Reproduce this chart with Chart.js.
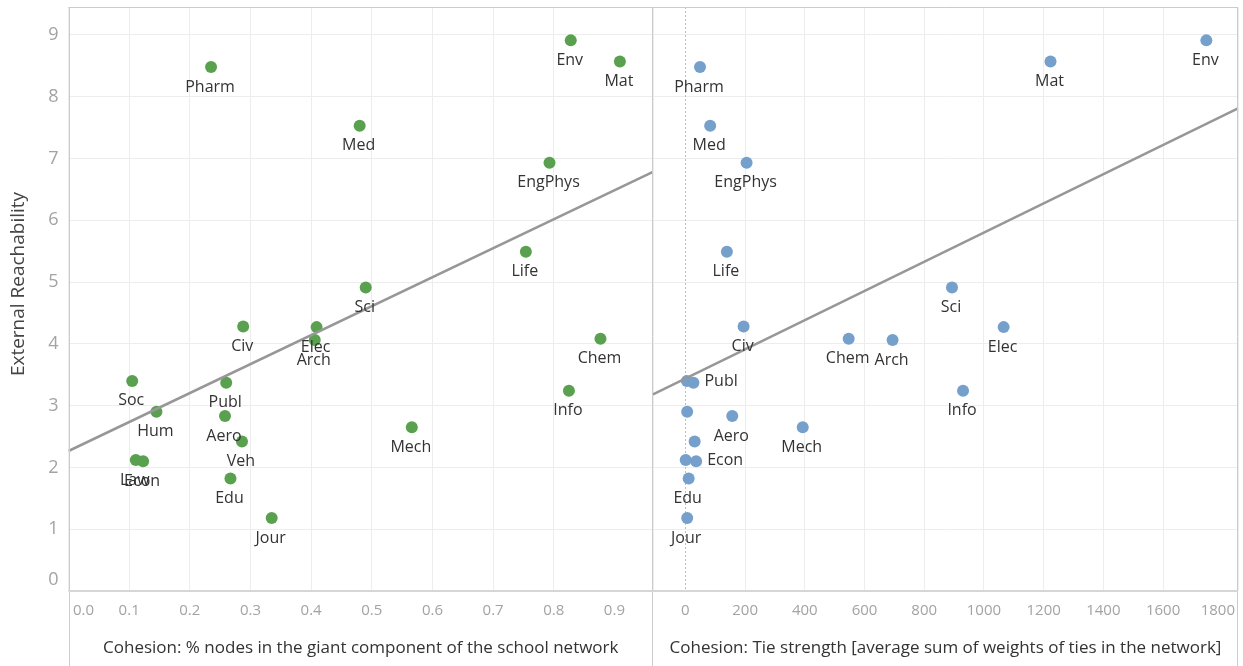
<!DOCTYPE html>
<html>
<head>
<meta charset="utf-8">
<script src="https://cdn.jsdelivr.net/npm/chart.js@4.4.1/dist/chart.umd.min.js"></script>
<style>
  html, body { margin: 0; padding: 0; background: #ffffff; }
  #wrap { position: relative; width: 1243px; height: 666px; overflow: hidden; }
  #wrap canvas { position: absolute; top: 0; }
  #cohesionChart { left: 0; }
  #tieChart { left: 653px; }
</style>
</head>
<body>
<div id="wrap">
  <canvas id="cohesionChart" width="653" height="666"></canvas>
  <canvas id="tieChart" width="590" height="666"></canvas>
</div>
<script>
// ---- data -------------------------------------------------------------
const schools = ['Pharm', 'Env', 'Mat', 'Med', 'EngPhys', 'Life', 'Sci', 'Civ', 'Elec', 'Arch', 'Soc',
                 'Publ', 'Hum', 'Aero', 'Veh', 'Law', 'Econ', 'Edu', 'Jour', 'Mech', 'Info', 'Chem'];

// External reachability of each school network
const reachability = [8.48, 8.91, 8.57, 7.53, 6.93, 5.49, 4.91, 4.28, 4.27, 4.06, 3.40,
                      3.37, 2.90, 2.83, 2.42, 2.12, 2.10, 1.82, 1.18, 2.65, 3.24, 4.08];

// Cohesion: share of nodes in the giant component
const giantShare = [0.235, 0.828, 0.909, 0.480, 0.793, 0.754, 0.490, 0.288, 0.409, 0.406, 0.105,
                    0.260, 0.145, 0.258, 0.286, 0.111, 0.123, 0.267, 0.335, 0.566, 0.825, 0.877];

// Cohesion: tie strength (average sum of tie weights)
const tieStrength = [49, 1745, 1223, 83, 205, 139, 893, 195, 1066, 694, 5,
                     27, 6, 157, 31, 1, 36, 11, 6, 393, 930, 547];

// tick labels
const reachTicks = ['0', '1', '2', '3', '4', '5', '6', '7', '8', '9'];
const shareTicks = ['0.0', '0.1', '0.2', '0.3', '0.4', '0.5', '0.6', '0.7', '0.8', '0.9'];
const tieTicks = ['0', '200', '400', '600', '800', '1000', '1200', '1400', '1600', '1800'];

// axis ranges
const REACH_RANGE = [0, 9.45];
const SHARE_RANGE = [0, 0.9636];
const TIE_RANGE = [-108.5, 1851];

// ---- styling ----------------------------------------------------------
const FONT = '"Open Sans", "Noto Sans", sans-serif';
const GREEN = '#59a14f';
const BLUE = '#74a0cb';
const TREND = '#979797';
const GRID = '#ededed';
const FRAME = '#cbcbcb';
const TICK_TEXT = '#a3a3a3';

// least squares line through the points
function linearFit(xs, ys) {
  const n = xs.length;
  const mx = xs.reduce((s, v) => s + v, 0) / n;
  const my = ys.reduce((s, v) => s + v, 0) / n;
  let sxy = 0, sxx = 0;
  for (let i = 0; i < n; i++) {
    sxy += (xs[i] - mx) * (ys[i] - my);
    sxx += (xs[i] - mx) * (xs[i] - mx);
  }
  const slope = sxy / sxx;
  return { slope, intercept: my - slope * mx };
}

function trendPoints(xs, ys, range) {
  const f = linearFit(xs, ys);
  return range.map(x => ({ x, y: f.intercept + f.slope * x }));
}

// mark labels, under each point or to its right
const markLabels = {
  id: 'markLabels',
  afterDatasetsDraw(chart, args, opts) {
    const ctx = chart.ctx;
    const meta = chart.getDatasetMeta(0);
    ctx.save();
    ctx.font = '16px ' + FONT;
    ctx.fillStyle = '#333333';
    ctx.textBaseline = 'middle';
    meta.data.forEach((pt, i) => {
      const name = schools[i];
      if (opts.hidden && opts.hidden.includes(name)) return;
      if (opts.right && opts.right.includes(name)) {
        ctx.textAlign = 'left';
        ctx.fillText(name, pt.x + 11, pt.y - 1);
      } else {
        ctx.textAlign = 'center';
        ctx.fillText(name, pt.x - 1, pt.y + 20);
      }
    });
    ctx.restore();
  }
};

// pane frame, zero line, tick labels and the vertical axis title
const paneFrame = {
  id: 'paneFrame',
  beforeDatasetsDraw(chart, args, opts) {
    if (!opts.zeroLine) return;
    const { ctx, chartArea } = chart;
    const x = Math.round(chart.scales.x.getPixelForValue(0)) + 0.5;
    ctx.save();
    ctx.strokeStyle = '#bdbdbd';
    ctx.lineWidth = 1;
    ctx.setLineDash([2, 2]);
    ctx.beginPath();
    ctx.moveTo(x, chartArea.top);
    ctx.lineTo(x, chartArea.bottom);
    ctx.stroke();
    ctx.restore();
  },
  afterDraw(chart, args, opts) {
    const { ctx, chartArea, height } = chart;
    const { left, right, top, bottom } = chartArea;
    ctx.save();
    ctx.strokeStyle = FRAME;
    ctx.lineWidth = 1;
    ctx.beginPath();
    ctx.moveTo(left, top + 0.5);
    ctx.lineTo(right, top + 0.5);
    if (opts.leftEdge) {
      ctx.moveTo(Math.round(left) + 0.5, top);
      ctx.lineTo(Math.round(left) + 0.5, height);
    }
    ctx.moveTo(Math.round(right) - 0.5, top);
    ctx.lineTo(Math.round(right) - 0.5, height);
    ctx.stroke();
    ctx.strokeStyle = '#d6d6d6';
    ctx.lineWidth = 2;
    ctx.beginPath();
    ctx.moveTo(left, bottom);
    ctx.lineTo(right, bottom);
    ctx.stroke();

    // x tick labels, kept inside the pane
    ctx.fillStyle = TICK_TEXT;
    ctx.font = '15px ' + FONT;
    ctx.textBaseline = 'middle';
    ctx.textAlign = 'center';
    const xs = chart.scales.x;
    opts.xTicks.forEach(t => {
      const w = ctx.measureText(t).width;
      let cx = xs.getPixelForValue(Number(t));
      cx = Math.max(cx, left + 4.5 + w / 2);
      cx = Math.min(cx, right - 3 - w / 2);
      ctx.fillText(t, cx, 611);
    });

    // y tick labels and title
    if (opts.yTicks) {
      const ys = chart.scales.y;
      ctx.font = '18px ' + FONT;
      ctx.textAlign = 'right';
      opts.yTicks.forEach(t => {
        let cy = ys.getPixelForValue(Number(t));
        cy = Math.min(cy, bottom - 11);
        ctx.fillText(t, left - 10, cy);
      });
      ctx.translate(19, 284);
      ctx.rotate(-Math.PI / 2);
      ctx.textAlign = 'center';
      ctx.fillStyle = '#444444';
      ctx.font = '19px ' + FONT;
      ctx.fillText(opts.yTitle, 0, 0);
    }
    ctx.restore();
  }
};

function makeChart(id, xs, range, color, xTitle, pluginOpts, isFirst) {
  const points = xs.map((x, i) => ({ x, y: reachability[i] }));
  return new Chart(document.getElementById(id), {
    data: {
      datasets: [
        {
          type: 'scatter',
          data: points,
          backgroundColor: color,
          borderWidth: 0,
          pointRadius: 6,
          pointHoverRadius: 6,
          order: 2
        },
        {
          type: 'line',
          data: trendPoints(xs, reachability, range),
          borderColor: TREND,
          borderWidth: 2.5,
          pointRadius: 0,
          fill: false,
          order: 1
        }
      ]
    },
    options: {
      responsive: false,
      animation: false,
      events: [],
      devicePixelRatio: 1,
      layout: {
        autoPadding: false,
        padding: { top: 7, right: isFirst ? 0 : 5, left: 0, bottom: 0 }
      },
      plugins: {
        legend: { display: false },
        tooltip: { enabled: false },
        markLabels: pluginOpts.labels,
        paneFrame: pluginOpts.frame
      },
      scales: {
        x: {
          type: 'linear',
          min: range[0],
          max: range[1],
          ticks: { display: false, stepSize: isFirst ? 0.1 : 200 },
          grid: {
            color: c => (!isFirst && c.tick && c.tick.value === 0) ? 'rgba(0,0,0,0)' : GRID,
            lineWidth: 1,
            drawTicks: false
          },
          border: { display: false },
          title: {
            display: true,
            text: xTitle,
            color: '#333333',
            font: { family: FONT, size: 17 },
            padding: { top: 0, bottom: 8 }
          },
          afterFit: s => { s.height = 75; }
        },
        y: {
          type: 'linear',
          min: REACH_RANGE[0],
          max: REACH_RANGE[1],
          ticks: { display: false, stepSize: 1 },
          grid: { color: GRID, lineWidth: 1, drawTicks: false },
          border: { display: false },
          title: { display: false },
          afterFit: s => { s.width = isFirst ? 68.5 : 0; }
        }
      }
    },
    plugins: [markLabels, paneFrame]
  });
}

makeChart('cohesionChart', giantShare, SHARE_RANGE, GREEN,
  'Cohesion: % nodes in the giant component of the school network',
  {
    labels: {},
    frame: { leftEdge: true, xTicks: shareTicks, yTicks: reachTicks, yTitle: 'External Reachability' }
  }, true);

makeChart('tieChart', tieStrength, TIE_RANGE, BLUE,
  'Cohesion: Tie strength [average sum of weights of ties in the network]',
  {
    labels: { hidden: ['Soc', 'Hum', 'Veh', 'Law'], right: ['Publ', 'Econ'] },
    frame: { leftEdge: false, zeroLine: true, xTicks: tieTicks }
  }, false);
</script>
</body>
</html>
